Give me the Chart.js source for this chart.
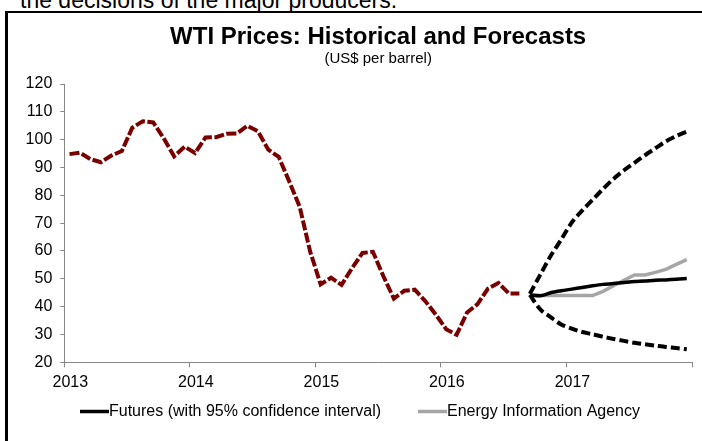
<!DOCTYPE html>
<html>
<head>
<meta charset="utf-8">
<title>WTI Prices: Historical and Forecasts</title>
<script src="https://cdn.jsdelivr.net/npm/chart.js@4.4.1/dist/chart.umd.min.js"></script>
<style>
  html, body { margin: 0; padding: 0; background: #fff; }
  #page { position: relative; width: 702px; height: 441px; overflow: hidden; font-family: "Liberation Sans", Arial, sans-serif; }
  #lead { position: absolute; left: 20px; top: -11px; font-size: 23px; line-height: 23px; color: #000; white-space: nowrap; }
  #frame { position: absolute; left: 5px; top: 11px; width: 800px; height: 500px; border-left: 3px solid #000; border-top: 2px solid #000; }
  #wrap { position: absolute; left: 0; top: 0; width: 702px; height: 441px; }
</style>
</head>
<body>
<div id="page">
  <div id="lead">the decisions of the major producers.</div>
  <div id="frame"></div>
  <div id="wrap"><canvas id="chart"></canvas></div>
</div>
<script>
// Monthly WTI averages
const histMonths = [
    '2013-01', '2013-02', '2013-03', '2013-04', '2013-05', '2013-06',
    '2013-07', '2013-08', '2013-09', '2013-10', '2013-11', '2013-12',
    '2014-01', '2014-02', '2014-03', '2014-04', '2014-05', '2014-06',
    '2014-07', '2014-08', '2014-09', '2014-10', '2014-11', '2014-12',
    '2015-01', '2015-02', '2015-03', '2015-04', '2015-05', '2015-06',
    '2015-07', '2015-08', '2015-09', '2015-10', '2015-11', '2015-12',
    '2016-01', '2016-02', '2016-03', '2016-04', '2016-05', '2016-06',
    '2016-07', '2016-08'
];
const histPrices = [
    94.8, 95.3, 93.0, 91.9, 94.3, 95.9, 104.3, 106.6, 106.2, 100.5, 94.0, 97.5,
    95.2, 100.8, 100.9, 102.1, 102.2, 105.0, 103.0, 96.4, 93.8, 85.0, 75.9, 59.8,
    48.0, 50.4, 47.8, 53.8, 59.3, 59.7, 50.9, 42.9, 45.7, 46.1, 42.0, 37.2,
    31.9, 29.9, 37.9, 40.9, 46.5, 48.5, 44.7, 44.7
];

// Forecasts, Sep 2016 - Dec 2017
const forecastMonths = [
    '2016-09', '2016-10', '2016-11', '2016-12',
    '2017-01', '2017-02', '2017-03', '2017-04', '2017-05', '2017-06',
    '2017-07', '2017-08', '2017-09', '2017-10', '2017-11', '2017-12'
];
const futures = [44.2, 43.9, 45.0, 45.7, 46.3, 46.9, 47.5, 48.0, 48.3, 48.7, 49.0, 49.2, 49.5, 49.6, 49.8, 50.1];
const futuresUpper = [44.6, 51.5, 58.3, 64.1, 70.2, 74.5, 78.4, 82.3, 85.9, 89.0, 91.7, 94.4, 96.9, 99.4, 101.3, 102.9];
const futuresLower = [44.2, 39.0, 36.2, 33.6, 32.1, 30.9, 30.1, 29.2, 28.4, 27.7, 27.0, 26.5, 26.0, 25.5, 25.1, 24.7];
const eia = [44.1, 44.0, 44.0, 44.0, 44.0, 44.0, 44.0, 45.5, 47.5, 49.5, 51.4, 51.4, 52.3, 53.4, 55.2, 56.9];

const yTicks = { min: 20, max: 120, step: 10 };
const xYears = { min: 2013, max: 2018 };

const legendItems = [
    { label: 'Futures (with 95% confidence interval)', color: '#000000' },
    { label: 'Energy Information Agency', color: '#a6a6a6' }
];

const FONT = '"Liberation Sans", Arial, sans-serif';

// "2013-01" -> middle of that month as a decimal year
function monthToYear(label) {
    const parts = label.split('-').map(Number);
    return parts[0] + (parts[1] - 0.5) / 12;
}

function toPoints(months, values) {
    return months.map((m, i) => ({ x: monthToYear(m), y: values[i] }));
}

// legend drawn by hand: line sample touching the text, like the original
const lineLegend = {
    id: 'lineLegend',
    afterDraw(chart) {
        const ctx = chart.ctx;
        const y = 411.5;
        const starts = [80, 418];
        ctx.save();
        ctx.font = '16px ' + FONT;
        ctx.textBaseline = 'middle';
        ctx.textAlign = 'left';
        legendItems.forEach((item, i) => {
            const x = starts[i];
            ctx.strokeStyle = item.color;
            ctx.lineWidth = 3.5;
            ctx.beginPath();
            ctx.moveTo(x, y);
            ctx.lineTo(x + 29, y);
            ctx.stroke();
            ctx.fillStyle = '#000';
            ctx.fillText(item.label, x + 29, y);
        });
        ctx.restore();
    }
};

const ctx = document.getElementById('chart').getContext('2d');

new Chart(ctx, {
    type: 'line',
    data: {
        datasets: [
            {
                label: 'Historical',
                data: toPoints(histMonths, histPrices),
                borderColor: '#7a0000',
                borderWidth: 4,
                borderDash: [10, 2.5],
                pointRadius: 0,
                tension: 0
            },
            {
                label: 'Upper 95%',
                data: toPoints(forecastMonths, futuresUpper),
                borderColor: '#000',
                borderWidth: 4,
                borderDash: [9, 4],
                pointRadius: 0,
                tension: 0.3
            },
            {
                label: 'Lower 95%',
                data: toPoints(forecastMonths, futuresLower),
                borderColor: '#000',
                borderWidth: 4,
                borderDash: [9, 4],
                pointRadius: 0,
                tension: 0.3
            },
            {
                label: 'Futures',
                data: toPoints(forecastMonths, futures),
                borderColor: '#000',
                borderWidth: 3.5,
                pointRadius: 0,
                tension: 0.3
            },
            {
                label: 'Energy Information Agency',
                data: toPoints(forecastMonths, eia),
                borderColor: '#a6a6a6',
                borderWidth: 3.5,
                pointRadius: 0,
                tension: 0
            }
        ]
    },
    options: {
        responsive: true,
        maintainAspectRatio: false,
        animation: false,
        layout: { padding: { left: 8, right: 10, top: 13, bottom: 0 } },
        plugins: {
            legend: { display: false },
            tooltip: { enabled: false },
            title: {
                display: true,
                text: 'WTI Prices: Historical and Forecasts',
                fullSize: false,
                color: '#000',
                font: { family: FONT, size: 24, weight: 'bold', lineHeight: 1 },
                padding: { top: 12, bottom: 0 }
            },
            subtitle: {
                display: true,
                text: '(US$ per barrel)',
                fullSize: false,
                color: '#000',
                font: { family: FONT, size: 15, lineHeight: 1 },
                padding: { top: 2, bottom: 18 }
            }
        },
        scales: {
            x: {
                type: 'linear',
                min: xYears.min,
                max: xYears.max,
                afterFit: scale => { scale.height = 78.7; },
                ticks: {
                    stepSize: 1,
                    autoSkip: false,
                    maxRotation: 0,
                    labelOffset: 6,
                    padding: 6,
                    color: '#000',
                    font: { family: FONT, size: 16 },
                    callback: v => (v === xYears.max ? '' : String(v))
                },
                grid: { drawOnChartArea: false, tickLength: 5, color: '#868686' },
                border: { color: '#868686', width: 1 }
            },
            y: {
                min: yTicks.min,
                max: yTicks.max,
                afterFit: scale => { scale.width = 56.3; },
                ticks: {
                    stepSize: yTicks.step,
                    padding: 8,
                    color: '#000',
                    font: { family: FONT, size: 16 }
                },
                grid: { drawOnChartArea: false, tickLength: 4, color: '#868686' },
                border: { color: '#868686', width: 1 }
            }
        }
    },
    plugins: [lineLegend]
});
</script>
</body>
</html>
